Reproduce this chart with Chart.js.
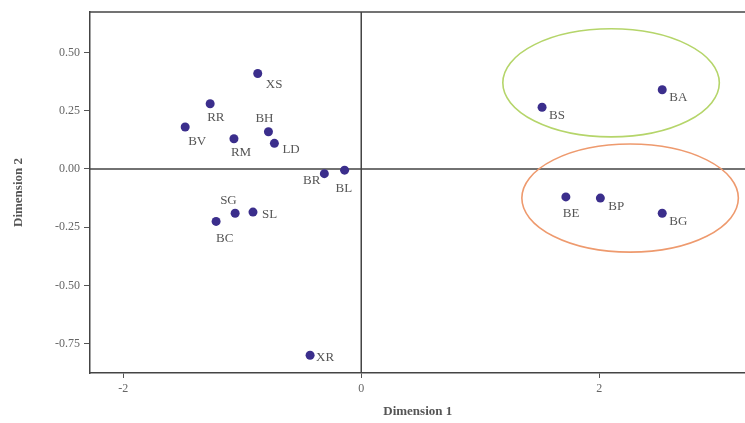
<!DOCTYPE html>
<html>
<head>
<meta charset="utf-8">
<script src="https://cdn.jsdelivr.net/npm/chart.js@4/dist/chart.umd.min.js"></script>
<style>
  html, body { margin: 0; padding: 0; background: #fff; overflow: hidden; }
  #wrap { width: 750px; height: 423px; position: relative; }
</style>
</head>
<body>
<div id="wrap"><canvas id="map"></canvas></div>
<script>
// brand codes and their positions on the two dimensions
const codes = ["XS", "RR", "BV", "RM", "BH", "LD", "BR", "BL", "SG", "SL", "BC", "XR", "BS", "BA", "BE", "BP", "BG"];
const dim1 = [-0.87, -1.27, -1.48, -1.07, -0.78, -0.73, -0.31, -0.14, -1.06, -0.91, -1.22, -0.43, 1.52, 2.53, 1.72, 2.01, 2.53];
const dim2 = [0.41, 0.28, 0.18, 0.13, 0.16, 0.11, -0.02, -0.005, -0.19, -0.185, -0.225, -0.80, 0.265, 0.34, -0.12, -0.125, -0.19];

// cluster ellipses: centre and radii in data units
const clusterCx = [2.10, 2.26];
const clusterCy = [0.37, -0.125];
const clusterRx = [0.91, 0.91];
const clusterRy = [0.232, 0.232];
const clusterColor = ["#b5d56a", "#ee9a6e"];

const xTicks = [-2, 0, 2];
const yTicks = [-0.75, -0.5, -0.25, 0, 0.25, 0.5];

// where each label sits relative to its dot (px offsets, text align)
const labelPos = {
  XS: [8, 11, "left"], RR: [-3, 14, "left"], BV: [3, 15, "left"], RM: [-3, 14, "left"],
  BH: [-13, -13, "left"], LD: [8, 6, "left"], BR: [-4, 7, "right"], BL: [-9, 18, "left"],
  SG: [-15, -13, "left"], SL: [9, 3, "left"], BC: [0, 17, "left"], XR: [6, 2, "left"],
  BS: [7, 8, "left"], BA: [7, 8, "left"], BE: [-3, 17, "left"], BP: [8, 8, "left"],
  BG: [7, 8, "left"]
};

const serif = "'Liberation Serif', 'DejaVu Serif', serif";

const overlay = {
  id: "overlay",
  beforeDatasetsDraw(chart) {
    const { ctx, chartArea: a, scales: { x, y } } = chart;
    ctx.save();
    // top frame line
    ctx.strokeStyle = "#444";
    ctx.lineWidth = 1.5;
    ctx.beginPath();
    ctx.moveTo(a.left, a.top);
    ctx.lineTo(a.right, a.top);
    ctx.stroke();
    // zero lines
    ctx.beginPath();
    ctx.moveTo(x.getPixelForValue(0), a.top);
    ctx.lineTo(x.getPixelForValue(0), a.bottom);
    ctx.moveTo(a.left, y.getPixelForValue(0));
    ctx.lineTo(a.right, y.getPixelForValue(0));
    ctx.stroke();
    // ellipses
    ctx.lineWidth = 1.6;
    for (let i = 0; i < clusterCx.length; i++) {
      const cx = x.getPixelForValue(clusterCx[i]);
      const cy = y.getPixelForValue(clusterCy[i]);
      const rx = Math.abs(x.getPixelForValue(clusterCx[i] + clusterRx[i]) - cx);
      const ry = Math.abs(y.getPixelForValue(clusterCy[i] + clusterRy[i]) - cy);
      ctx.strokeStyle = clusterColor[i];
      ctx.beginPath();
      ctx.ellipse(cx, cy, rx, ry, 0, 0, Math.PI * 2);
      ctx.stroke();
    }
    ctx.restore();
  },
  afterDatasetsDraw(chart) {
    const { ctx, scales: { x, y } } = chart;
    ctx.save();
    ctx.font = "13px " + serif;
    ctx.fillStyle = "#555";
    ctx.textBaseline = "middle";
    codes.forEach((c, i) => {
      const p = labelPos[c];
      ctx.textAlign = p[2];
      ctx.fillText(c, x.getPixelForValue(dim1[i]) + p[0], y.getPixelForValue(dim2[i]) + p[1]);
    });
    ctx.restore();
  }
};

new Chart(document.getElementById("map"), {
  type: "scatter",
  data: {
    datasets: [{
      data: codes.map((c, i) => ({ x: dim1[i], y: dim2[i] })),
      backgroundColor: "#3b2e8c",
      borderWidth: 0,
      pointRadius: 4.5,
      pointHoverRadius: 4.5
    }]
  },
  options: {
    responsive: true,
    maintainAspectRatio: false,
    animation: false,
    layout: { padding: { top: 12, right: 0, left: 0, bottom: 0 } },
    plugins: { legend: { display: false }, tooltip: { enabled: false } },
    scales: {
      x: {
        type: "linear",
        min: -2.28, max: 3.23,
        afterBuildTicks: (s) => { s.ticks = xTicks.map((v) => ({ value: v })); },
        afterFit: (s) => { s.height = 50; },
        border: { display: true, color: "#444", width: 1.5 },
        grid: { drawOnChartArea: false, drawTicks: true, tickLength: 5, color: "#555" },
        ticks: { color: "#666", padding: 4, font: { family: serif, size: 12 } },
        title: { display: true, text: "Dimension 1", color: "#555", padding: { top: 6, bottom: 4 }, font: { family: serif, size: 13, weight: "bold" } }
      },
      y: {
        type: "linear",
        min: -0.876, max: 0.674,
        afterBuildTicks: (s) => { s.ticks = yTicks.map((v) => ({ value: v })); },
        afterFit: (s) => { s.width = 90; },
        border: { display: true, color: "#444", width: 1.5 },
        grid: { drawOnChartArea: false, drawTicks: true, tickLength: 6, color: "#555" },
        ticks: { color: "#666", padding: 4, font: { family: serif, size: 12 }, callback: (v) => v.toFixed(2) },
        title: { display: true, text: "Dimension 2", color: "#555", padding: { top: 11, bottom: 4 }, font: { family: serif, size: 13, weight: "bold" } }
      }
    }
  },
  plugins: [overlay]
});
</script>
</body>
</html>
